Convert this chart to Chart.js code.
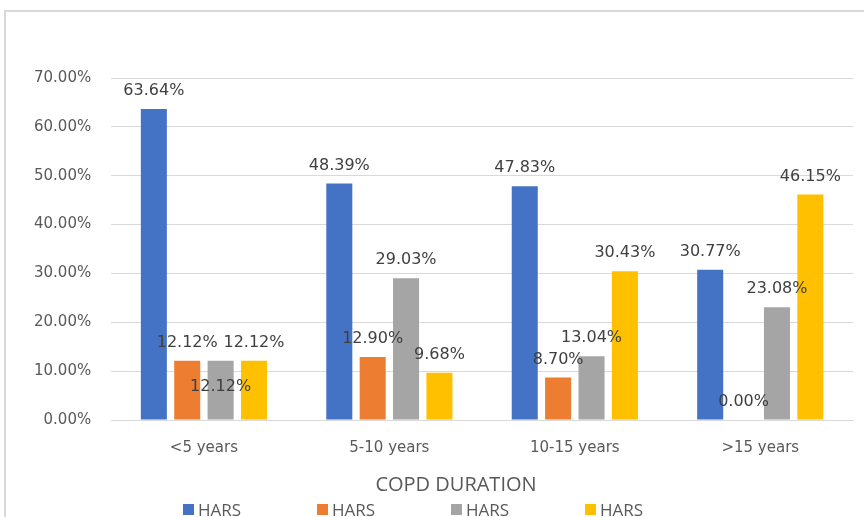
<!DOCTYPE html>
<html>
<head>
<meta charset="utf-8">
<script src="https://cdn.jsdelivr.net/npm/chart.js@4.4.1/dist/chart.umd.min.js"></script>
<style>
  html, body { margin: 0; padding: 0; background: #fff; }
  body { width: 864px; height: 517px; position: relative; overflow: hidden; }
  #frame { position: absolute; left: 4px; top: 10px; width: 900px; height: 600px; border: 2px solid #d9d9d9; box-sizing: border-box; }
  #wrap { position: absolute; left: 0; top: 0; width: 864px; height: 517px; }
  #xtitle { position: absolute; left: 356px; width: 200px; top: 470px; text-align: center; font: 20px "Open Sans", sans-serif; color: #595959; line-height: 28px; }
  #legend { position: absolute; left: 183px; top: 498px; display: flex; font: 17px "Open Sans", sans-serif; color: #595959; }
  #legend .item { width: 134px; display: flex; align-items: center; }
  #legend .box { width: 11px; height: 11px; margin-right: 4px; }
</style>
</head>
<body>
<div id="frame"></div>
<div id="wrap"><canvas id="chart" width="864" height="517"></canvas></div>
<div id="xtitle">COPD DURATION</div>
<div id="legend"></div>
<script>
// kategori dan nilai (persen)
const categories = ['<5 years', '5-10 years', '10-15 years', '>15 years'];
const seriesNames = ['HARS', 'HARS', 'HARS', 'HARS'];
const seriesColors = ['#4472C4', '#ED7D31', '#A5A5A5', '#FFC000'];
const series1 = [63.64, 48.39, 47.83, 30.77];
const series2 = [12.12, 12.90, 8.70, 0.00];
const series3 = [12.12, 29.03, 13.04, 23.08];
const series4 = [12.12, 9.68, 30.43, 46.15];
const yTicks = [0, 10, 20, 30, 40, 50, 60, 70];

const allSeries = [series1, series2, series3, series4];

// label di atas batang, geser ke bawah kalau tabrakan
const barLabels = {
    id: 'barLabels',
    afterDatasetsDraw(chart) {
        const c = chart.ctx;
        c.save();
        c.font = '16px "DejaVu Sans"';
        c.fillStyle = '#404040';
        c.textAlign = 'center';
        c.textBaseline = 'middle';
        const boxes = [];
        for (let i = 0; i < chart.data.labels.length; i++) {
            chart.data.datasets.forEach((ds, d) => {
                const bar = chart.getDatasetMeta(d).data[i];
                const text = ds.data[i].toFixed(2) + '%';
                const w = c.measureText(text).width;
                let y = bar.y - 18;
                const hit = boxes.some(b => Math.abs(b.x - bar.x) < (b.w + w) / 2 && Math.abs(b.y - y) < 14);
                if (hit) y = bar.y + 26;
                boxes.push({ x: bar.x, y: y, w: w });
                c.fillText(text, bar.x, y);
            });
        }
        c.restore();
    }
};

const ctx = document.getElementById('chart').getContext('2d');
const chart = new Chart(ctx, {
    type: 'bar',
    data: {
        labels: categories,
        datasets: allSeries.map((s, i) => ({
            label: seriesNames[i],
            data: s,
            backgroundColor: seriesColors[i],
            categoryPercentage: 0.72,
            barPercentage: 0.78
        }))
    },
    options: {
        responsive: false,
        animation: false,
        layout: { padding: { top: 78, left: 14, right: 11, bottom: 41 } },
        plugins: {
            legend: { display: false },
            tooltip: { enabled: false }
        },
        scales: {
            x: {
                grid: { display: false, drawTicks: false },
                border: { color: '#d9d9d9', width: 1 },
                ticks: { color: '#595959', font: { family: 'DejaVu Sans', size: 15 }, padding: 19 }
            },
            y: {
                min: 0,
                max: 70,
                afterBuildTicks: axis => { axis.ticks = yTicks.map(v => ({ value: v })); },
                grid: { color: '#d9d9d9', drawTicks: false },
                border: { display: false },
                ticks: {
                    color: '#595959',
                    font: { family: 'DejaVu Sans', size: 15 },
                    padding: 20,
                    callback: v => v.toFixed(2) + '%'
                }
            }
        }
    },
    plugins: [barLabels]
});

// legenda HTML
const legend = document.getElementById('legend');
chart.data.datasets.forEach(ds => {
    const item = document.createElement('div');
    item.className = 'item';
    item.innerHTML = '<span class="box" style="background:' + ds.backgroundColor + '"></span>' + ds.label;
    legend.appendChild(item);
});
</script>
</body>
</html>
